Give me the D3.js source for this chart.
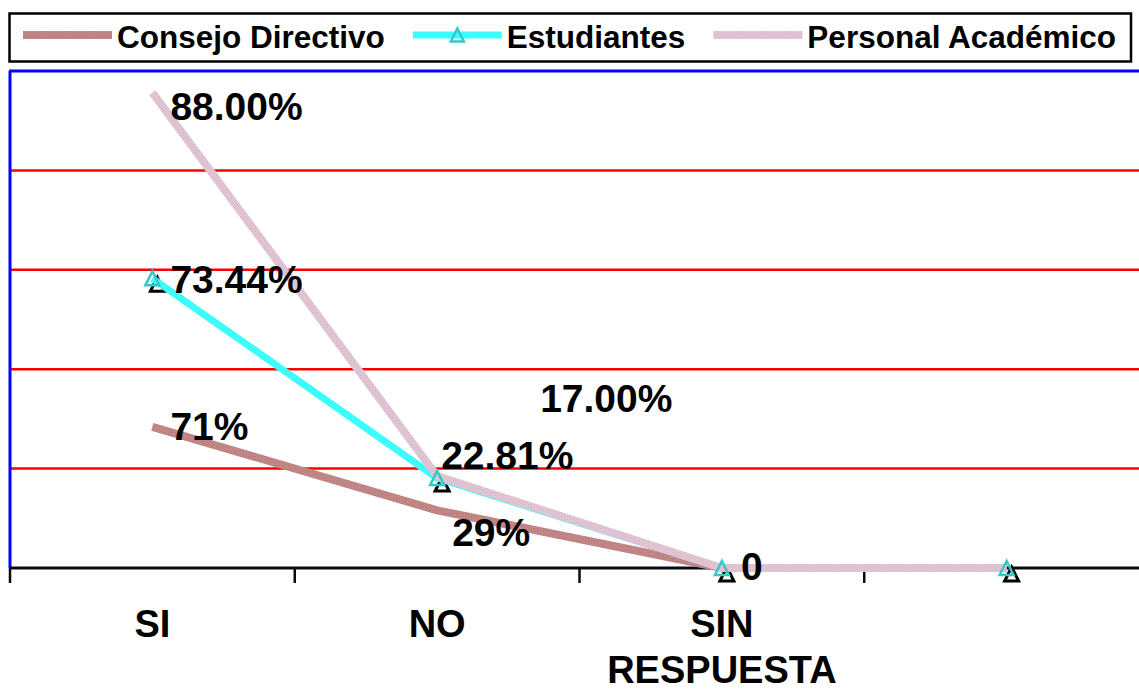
<!DOCTYPE html>
<html>
<head>
<meta charset="utf-8">
<script src="https://cdn.jsdelivr.net/npm/d3@7"></script>
<style>
  html, body { margin: 0; padding: 0; background: #ffffff; }
  svg { display: block; font-family: "Liberation Sans", Arial, sans-serif; font-weight: bold; }
</style>
</head>
<body>
<svg id="chart" width="1139" height="691"></svg>
<script>
// ---- data ----
const categories = ["SI", "NO", "SIN RESPUESTA", ""];
const seriesNames = ["Consejo Directivo", "Estudiantes", "Personal Académico"];
const consejoValues = [71, 29, 0, 0];
const estudiantesValues = [73.44, 22.81, 0, 0];
const personalValues = [88, 17, 0, 0];
// every series is read against its own (unlabelled) value axis
const valueAxisMax = [250, 126, 92];
const labelDecimals = [0, 2, 2];

// ---- layout ----
const W = 1139, H = 691;
const plot = { left: 10, top: 71, bottom: 568, right: 1149 };

// label placement relative to each point (null = no label)
const labelOffsets = [
  [[18, 13], [15, 36], null, null],
  [[18, 15], [4, -9], [19, 12], null],
  [[18, 27], [103, -64], null, null]
];

const styles = [
  { stroke: "url(#texRose)", width: 8, marker: false },
  { stroke: "#3dfcfc", width: 7, marker: true },
  { stroke: "url(#texPink)", width: 8, marker: false }
];

const seriesValues = [consejoValues, estudiantesValues, personalValues];
const series = seriesNames.map((name, i) => ({
  name, values: seriesValues[i], style: styles[i],
  y: d3.scaleLinear().domain([0, valueAxisMax[i]]).range([plot.bottom, plot.top]),
  fmt: v => v === 0 ? "0" : d3.format("." + labelDecimals[i] + "f")(v) + "%",
  offsets: labelOffsets[i]
}));

const svg = d3.select("#chart");

// line textures
const defs = svg.append("defs");
function texture(id, base, dot) {
  const p = defs.append("pattern").attr("id", id)
    .attr("width", 3).attr("height", 3).attr("patternUnits", "userSpaceOnUse");
  p.append("rect").attr("width", 3).attr("height", 3).attr("fill", base);
  p.append("rect").attr("width", 1).attr("height", 1).attr("fill", dot);
  p.append("rect").attr("x", 1.5).attr("y", 1.5).attr("width", 1).attr("height", 1).attr("fill", dot);
}
texture("texRose", "#c48a89", "#b07372");
texture("texPink", "#e2c8d6", "#d2b2c3");

const x = d3.scaleBand().domain(categories).range([plot.left, plot.right]).padding(0);
const cx = c => x(c) + x.bandwidth() / 2;

// shared value grid (five equal bands)
const grid = d3.scaleLinear().domain([0, 100]).range([plot.bottom, plot.top]);
svg.append("g").selectAll("line")
  .data(grid.ticks(5).filter(t => t > 0 && t < 100))
  .join("line")
  .attr("x1", plot.left).attr("x2", W)
  .attr("y1", d => grid(d)).attr("y2", d => grid(d))
  .attr("stroke", "#ff0000").attr("stroke-width", 2.5);

// plot frame: top and left edges
svg.append("line")
  .attr("x1", plot.left - 1).attr("x2", W)
  .attr("y1", plot.top).attr("y2", plot.top)
  .attr("stroke", "#0000ff").attr("stroke-width", 3);
svg.append("line")
  .attr("x1", plot.left).attr("x2", plot.left)
  .attr("y1", plot.top).attr("y2", plot.bottom)
  .attr("stroke", "#0000ff").attr("stroke-width", 3);

// category axis
svg.append("line")
  .attr("x1", plot.left).attr("x2", W)
  .attr("y1", plot.bottom).attr("y2", plot.bottom)
  .attr("stroke", "#0a0a14").attr("stroke-width", 3);
svg.append("g").selectAll("line")
  .data(categories)
  .join("line")
  .attr("x1", d => x(d)).attr("x2", d => x(d))
  .attr("y1", plot.bottom).attr("y2", plot.bottom + 15)
  .attr("stroke", "#0a0a14").attr("stroke-width", 2.5);

const catText = svg.append("g").selectAll("text")
  .data(categories)
  .join("text")
  .attr("text-anchor", "middle")
  .attr("font-size", 38)
  .attr("fill", "#000")
  .attr("transform", d => `translate(${cx(d)},637)`);
catText.each(function (d) {
  d.split(" ").forEach((w, i) => {
    d3.select(this).append("tspan").attr("x", 0).attr("y", i * 46).text(w);
  });
});

// triangle marker path centred on its box
const tri = s => `M0,${-s / 2}L${s / 2},${s / 2}L${-s / 2},${s / 2}Z`;

// marker shadows
series.filter(s => s.style.marker).forEach(s => {
  svg.append("g").selectAll("path")
    .data(s.values.map((v, i) => ({ c: categories[i], v })))
    .join("path")
    .attr("d", tri(14))
    .attr("transform", d => `translate(${cx(d.c) + 5},${s.y(d.v) + 6})`)
    .attr("fill", "none").attr("stroke", "#000").attr("stroke-width", 3);
});

// series lines
series.forEach(s => {
  const line = d3.line()
    .x((d, i) => cx(categories[i]))
    .y(d => s.y(d));
  svg.append("path")
    .datum(s.values)
    .attr("d", line)
    .attr("fill", "none")
    .attr("stroke", s.style.stroke)
    .attr("stroke-width", s.style.width)
    .attr("stroke-linejoin", "round");
});

// markers
series.filter(s => s.style.marker).forEach(s => {
  svg.append("g").selectAll("path")
    .data(s.values.map((v, i) => ({ c: categories[i], v })))
    .join("path")
    .attr("d", tri(14))
    .attr("transform", d => `translate(${cx(d.c)},${s.y(d.v)})`)
    .attr("fill", "none").attr("stroke", "#33c9c9").attr("stroke-width", 2.5);
});

// value labels
series.forEach(s => {
  svg.append("g").selectAll("text")
    .data(s.values.map((v, i) => ({ c: categories[i], v, off: s.offsets[i] })).filter(d => d.off))
    .join("text")
    .attr("font-size", 39)
    .attr("fill", "#000")
    .attr("x", d => cx(d.c) + d.off[0])
    .attr("y", d => s.y(d.v) + d.off[1])
    .text(d => s.fmt(d.v));
});

// legend
const legend = svg.append("g");
legend.append("rect")
  .attr("x", 9.5).attr("y", 13.5).attr("width", 1121.5).attr("height", 48)
  .attr("fill", "#fff").attr("stroke", "#000").attr("stroke-width", 2.5);
let lx = 23;
const ly = 35;
series.forEach(s => {
  const g = legend.append("g");
  g.append("line")
    .attr("x1", lx).attr("x2", lx + 89).attr("y1", ly).attr("y2", ly)
    .attr("stroke", s.style.stroke).attr("stroke-width", s.style.width);
  if (s.style.marker) {
    g.append("path").attr("d", tri(13))
      .attr("transform", `translate(${lx + 44.5},${ly})`)
      .attr("fill", "none").attr("stroke", "#33c9c9").attr("stroke-width", 2.5);
  }
  const t = g.append("text")
    .attr("x", lx + 94).attr("y", 48)
    .attr("font-size", 31.5).attr("fill", "#000")
    .text(s.name);
  lx += 94 + t.node().getComputedTextLength() + 28;
});
</script>
</body>
</html>
